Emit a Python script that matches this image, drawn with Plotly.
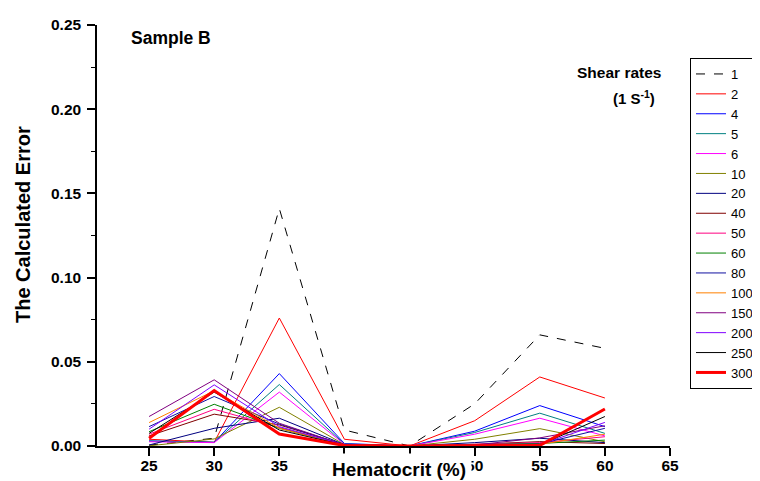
import plotly.graph_objects as go

hematocrit = [25, 30, 35, 40, 45, 50, 55, 60]

shear_labels = ["1", "2", "4", "5", "6", "10", "20", "40", "50", "60", "80", "100", "150", "200", "250", "300"]

s1 = [0.0005, 0.0046, 0.141, 0.0095, 0.0, 0.025, 0.066, 0.058]
s2 = [0.004, 0.0022, 0.076, 0.004, 0.0, 0.015, 0.041, 0.0285]
s4 = [0.003, 0.0022, 0.043, 0.0015, 0.0, 0.0088, 0.024, 0.0115]
s5 = [0.003, 0.0022, 0.0365, 0.0012, 0.0, 0.008, 0.0195, 0.0075]
s6 = [0.0025, 0.002, 0.032, 0.001, 0.0, 0.007, 0.0165, 0.006]
s10 = [0.0001, 0.0042, 0.023, 0.0008, 0.0, 0.004, 0.0103, 0.0025]
s20 = [0.0006, 0.0105, 0.0165, 0.0008, 0.0, 0.002, 0.0046, 0.002]
s40 = [0.006, 0.0189, 0.0125, 0.0008, 0.0, 0.001, 0.0026, 0.0015]
s50 = [0.007, 0.0218, 0.011, 0.0008, 0.0, 0.001, 0.002, 0.0055]
s60 = [0.0085, 0.0248, 0.0105, 0.0007, 0.0, 0.0008, 0.0015, 0.0035]
s80 = [0.0115, 0.0294, 0.013, 0.0007, 0.0, 0.0008, 0.0012, 0.0105]
s100 = [0.0139, 0.0328, 0.0105, 0.0006, 0.0, 0.0006, 0.001, 0.007]
s150 = [0.0175, 0.0393, 0.0135, 0.0006, 0.0, 0.0006, 0.0048, 0.012]
s200 = [0.010, 0.0363, 0.0115, 0.0006, 0.0, 0.0005, 0.0008, 0.014]
s250 = [0.0075, 0.032, 0.0095, 0.0005, 0.0, 0.0005, 0.0006, 0.0175]
s300 = [0.0046, 0.0329, 0.0071, 0.0003, 0.0, 0.0003, 0.0003, 0.022]

series = [s1, s2, s4, s5, s6, s10, s20, s40, s50, s60, s80, s100, s150, s200, s250, s300]

colors = ["#000000", "#FF0000", "#0000FF", "#008080", "#FF00FF", "#808000", "#000080",
          "#800000", "#FF0080", "#008000", "#1010A0", "#FF8000", "#800080", "#8000FF",
          "#000000", "#FF0000"]

fig = go.Figure()
for lab, vals, col in zip(shear_labels, series, colors):
    width = 3 if lab == "300" else 1
    dash = "dash" if lab == "1" else "solid"
    fig.add_trace(go.Scatter(x=hematocrit, y=vals, mode="lines", name=lab,
                             line=dict(color=col, width=width, dash=dash)))

# page body has an 8px default margin, so compensate
OFF = 8
W, H = 760, 481
L, T = 97 - OFF, 25 - OFF
plot_right, plot_bottom = 670 - OFF, 446 - OFF
R, B = W - plot_right, H - plot_bottom
pw = plot_right - L
ph = plot_bottom - T

def px(x):
    return (x - OFF - L) / pw

def py(y):
    return (plot_bottom - (y - OFF)) / ph

fig.update_layout(
    width=W, height=H,
    margin=dict(l=L, r=R, t=T, b=B, autoexpand=False),
    paper_bgcolor="white", plot_bgcolor="white",
    font=dict(family="Arial", color="black"),
    showlegend=True,
    legend=dict(x=px(690), y=py(58), xanchor="left", yanchor="top",
                bordercolor="black", borderwidth=1, bgcolor="white",
                font=dict(size=13, family="Arial", color="black"),
                tracegroupgap=0),
    xaxis=dict(range=[21, 65], tickvals=[25, 30, 35, 40, 45, 50, 55, 60, 65],
               showgrid=False, zeroline=False, showline=True, linecolor="black", linewidth=1.5,
               ticks="outside", ticklen=8, tickwidth=1.5, tickcolor="black",
               ticklabelstandoff=-3,
               tickfont=dict(size=15.5, family="Arial", color="black", weight="bold"),
               fixedrange=True),
    yaxis=dict(range=[0, 0.25], tickvals=[0, 0.05, 0.10, 0.15, 0.20, 0.25], tickformat=".2f",
               showgrid=False, zeroline=False, showline=True, linecolor="black", linewidth=1.5,
               ticks="outside", ticklen=8, tickwidth=1.5, tickcolor="black",
               ticklabelstandoff=3,
               tickfont=dict(size=15.5, family="Arial", color="black", weight="bold"),
               minor=dict(tickvals=[0.025, 0.075, 0.125, 0.175, 0.225], ticks="outside",
                          ticklen=4, tickwidth=1, tickcolor="black"),
               fixedrange=True),
)

def note(text, x, y, size, **kw):
    fig.add_annotation(text=text, xref="paper", yref="paper", x=px(x), y=py(y),
                       xanchor="center", yanchor="middle", showarrow=False,
                       font=dict(size=size, family="Arial", weight="bold", color="black"), **kw)

note("The Calculated Error", 23, 225, 20, textangle=-90)
note("Hematocrit (%)", 399, 469, 19, bgcolor="white", borderpad=5)
note("Sample B", 171, 38, 17.5)
note("Shear rates", 619, 72, 15.5)
note("(1 S<sup>-1</sup>)", 634, 97, 15)

fig.write_html("out.html")
